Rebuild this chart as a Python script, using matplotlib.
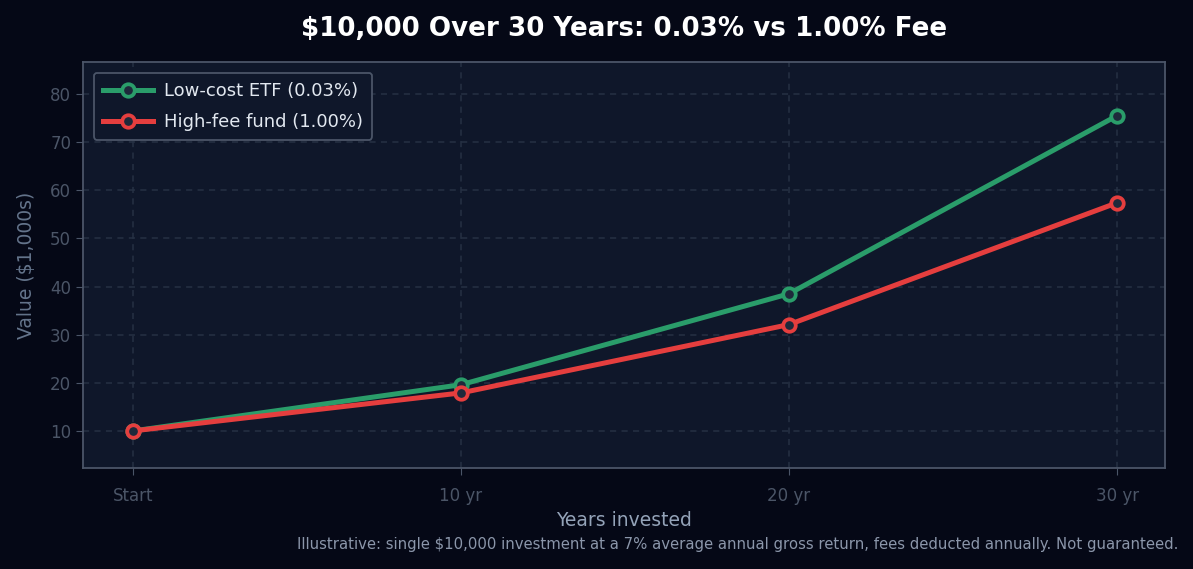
import matplotlib.pyplot as plt

# --data
periods = ['Start', '10 yr', '20 yr', '30 yr']
years = [0, 10, 20, 30]
low_cost = [10.0, 19.6, 38.5, 75.5]
high_fee = [10.0, 17.9, 32.1, 57.4]
series_names = ['Low-cost ETF (0.03%)', 'High-fee fund (1.00%)']

plt.rcParams['font.family'] = ['DejaVu Sans']

fig_bg = '#050816'
ax_bg = '#0f172a'
spine_c = '#4b5568'

fig = plt.figure(figsize=(11.93, 5.69), dpi=100, facecolor=fig_bg)
ax = fig.add_axes([83/1193, 1-468/569, (1165-83)/1193, (468-62)/569])
ax.set_facecolor(ax_bg)

ax.plot(years, low_cost, color='#2a9d6a', lw=3.6, marker='o', ms=9,
        mfc='#1e293b', mec='#2a9d6a', mew=2.7, label=series_names[0], zorder=3)
ax.plot(years, high_fee, color='#e53e3e', lw=3.6, marker='o', ms=9,
        mfc='#1e293b', mec='#e53e3e', mew=2.7, label=series_names[1], zorder=4)

ax.set_xlim(-1.52, 31.46)
ax.set_ylim(2.3, 86.65)
ax.set_xticks(years)
ax.set_xticklabels(periods)
ax.set_yticks([10, 20, 30, 40, 50, 60, 70, 80])

ax.grid(True, color='#263144', ls=(0, (4, 3.5)), lw=1.1)
ax.set_axisbelow(True)
for s in ax.spines.values():
    s.set_color(spine_c)
    s.set_linewidth(1.3)
ax.tick_params(colors=spine_c, labelcolor='#4b5567', labelsize=12, length=5)
ax.tick_params(axis='x', pad=9)

ax.set_xlabel('Years invested', color='#94a3b8', fontsize=13.5, labelpad=4)
ax.set_ylabel('Value ($1,000s)', color='#64748b', fontsize=13.5, labelpad=10)
ax.set_title('$10,000 Over 30 Years: 0.03% vs 1.00% Fee', color='white',
             fontsize=18.8, fontweight='bold', pad=19)

leg = ax.legend(loc='upper left', fontsize=13, facecolor=ax_bg,
                edgecolor=spine_c, labelcolor='#e2e8f0', framealpha=1,
                handlelength=2.8, handletextpad=0.6, borderpad=0.5,
                labelspacing=0.72, borderaxespad=0.6)
leg.get_frame().set_linewidth(1.3)

fig.text(1178/1193, 1-549/569, 'Illustrative: single $10,000 investment at a 7% average annual gross return, '
         'fees deducted annually. Not guaranteed.', ha='right', va='baseline',
         color='#8b96aa', fontsize=10.7)

fig.savefig('out.png', dpi=100, facecolor=fig_bg)
